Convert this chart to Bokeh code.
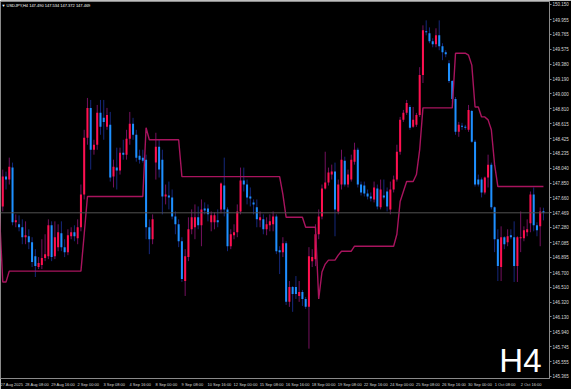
from bokeh.plotting import figure
from bokeh.models import Range1d, LinearAxis, FixedTicker, PrintfTickFormatter, Label, Span
from bokeh.embed import file_html
from bokeh.resources import INLINE

header_text = "\u25BC USDJPY,H4  147.490 147.534 147.372 147.469"
timeframe_text = "H4"
last_price = 147.469

opens = [
    147.641, 147.551, 147.935, 147.897, 148.051, 147.347, 147.321, 147.283, 147.155, 147.167,
    147.091, 146.911, 146.771, 146.796, 146.886, 146.911, 147.308, 146.911, 147.027, 147.206,
    147.027, 146.963, 147.167, 147.219, 147.142, 147.283, 147.705, 148.435, 148.819, 148.281,
    148.345, 148.755, 148.691, 148.575, 148.601, 147.935, 148.051, 148.012, 148.243, 148.217,
    148.422, 148.614, 148.473, 148.204, 148.179, 148.153, 147.283, 147.129, 148.115, 148.319,
    148.153, 147.679, 147.692, 147.667, 147.423, 147.321, 147.103, 146.591, 146.899, 147.257,
    147.283, 147.411, 147.308, 147.526, 147.526, 147.347, 147.347, 147.372, 147.513, 147.820,
    147.513, 147.039, 147.180, 147.219, 147.487, 147.884, 147.833, 147.679, 147.603, 147.539,
    147.372, 147.385, 147.257, 147.308, 147.321, 147.423, 146.988, 146.963, 147.078, 146.323,
    146.515, 146.515, 146.399, 146.451, 146.361, 146.259, 146.847, 146.873, 147.193, 147.423,
    147.782, 147.859, 147.961, 147.999, 147.487, 147.833, 148.140, 147.833, 147.897, 148.127,
    148.281, 147.833, 147.820, 147.718, 147.679, 147.641, 147.782, 147.539, 147.692, 147.743,
    147.513, 147.769, 147.897, 148.255, 148.665, 148.755, 148.831, 148.575, 148.601, 148.729,
    149.241, 149.804, 149.779, 149.676, 149.638, 149.753, 149.612, 149.535, 149.395, 149.164,
    148.934, 148.511, 148.588, 148.575, 148.537, 148.780, 148.383, 147.897, 147.897, 147.731,
    147.923, 148.089, 147.539, 147.129, 146.771, 147.155, 147.091, 147.180, 147.155, 146.783,
    147.142, 147.142, 147.219, 147.334, 147.705, 147.308, 147.295, 147.490,
]
highs = [
    147.705, 148.025, 147.999, 148.179, 148.115, 147.449, 147.436, 147.385, 147.359, 147.257,
    147.155, 147.001, 146.899, 147.129, 147.193, 147.385, 147.359, 147.359, 147.321, 147.359,
    147.129, 147.257, 147.283, 147.308, 147.385, 147.833, 148.537, 148.947, 148.921, 148.409,
    148.857, 148.921, 148.921, 148.819, 148.767, 148.153, 148.307, 148.307, 148.409, 148.537,
    148.767, 148.691, 148.537, 148.281, 148.281, 148.217, 147.385, 147.449, 148.499, 148.409,
    148.281, 147.833, 147.871, 147.769, 147.487, 147.385, 147.155, 147.001, 147.411, 147.513,
    147.577, 147.551, 147.641, 147.603, 147.577, 147.487, 147.475, 147.513, 147.859, 148.179,
    147.539, 147.257, 147.321, 147.577, 148.051, 148.051, 147.897, 147.795, 147.641, 147.641,
    147.487, 147.449, 147.411, 147.449, 147.487, 147.449, 147.039, 147.155, 147.103, 146.591,
    146.527, 146.655, 146.591, 146.476, 146.387, 147.027, 147.001, 147.321, 147.513, 147.833,
    148.255, 148.051, 148.089, 148.115, 147.897, 148.281, 148.191, 148.025, 148.217, 148.371,
    148.307, 147.871, 147.871, 147.769, 147.731, 147.871, 147.833, 147.897, 147.897, 147.795,
    147.871, 147.948, 148.345, 148.703, 148.793, 148.921, 148.857, 148.831, 148.755, 149.343,
    149.881, 149.945, 149.855, 149.715, 149.843, 149.945, 149.651, 149.561, 149.433, 149.177,
    148.959, 148.639, 148.627, 148.601, 148.857, 148.793, 148.409, 147.961, 147.923, 147.935,
    148.217, 148.115, 147.551, 147.257, 147.295, 147.167, 147.257, 147.257, 147.359, 147.167,
    147.487, 147.295, 147.385, 147.743, 147.795, 147.347, 147.539, 147.534,
]
lows = [
    147.449, 147.487, 147.769, 147.833, 147.308, 147.283, 147.231, 147.065, 147.065, 147.001,
    146.771, 146.643, 146.745, 146.745, 146.847, 146.873, 146.847, 146.873, 146.975, 146.975,
    146.899, 146.924, 147.129, 147.103, 147.065, 147.231, 147.641, 148.345, 148.025, 148.217,
    148.281, 148.473, 148.409, 148.537, 147.871, 147.795, 147.769, 147.961, 148.153, 148.153,
    148.345, 148.409, 148.127, 148.102, 148.115, 147.129, 146.937, 147.065, 147.897, 147.923,
    147.449, 147.577, 147.513, 147.385, 147.193, 147.027, 146.579, 146.399, 146.847, 147.193,
    147.129, 147.257, 147.039, 147.449, 147.359, 147.231, 147.257, 147.283, 147.462, 147.423,
    146.975, 147.001, 147.129, 147.155, 147.449, 147.743, 147.577, 147.551, 147.449, 147.283,
    147.283, 147.193, 147.180, 147.231, 147.231, 146.937, 146.681, 146.899, 146.284, 146.259,
    146.195, 146.361, 146.323, 146.271, 146.233, 145.721, 146.771, 146.783, 147.129, 147.385,
    147.769, 147.820, 147.897, 147.167, 147.449, 147.769, 147.807, 147.795, 147.871, 148.089,
    147.795, 147.692, 147.679, 147.641, 147.615, 147.603, 147.513, 147.513, 147.641, 147.487,
    147.449, 147.731, 147.871, 148.217, 148.639, 148.729, 148.537, 148.563, 148.575, 148.703,
    149.139, 149.753, 149.651, 149.599, 149.599, 149.561, 149.433, 149.471, 149.139, 148.895,
    148.473, 148.447, 148.537, 148.537, 148.511, 148.371, 147.807, 147.807, 147.667, 147.705,
    147.795, 147.513, 146.963, 146.591, 146.591, 147.001, 147.039, 147.129, 146.579, 146.579,
    146.963, 147.103, 147.167, 147.219, 147.231, 147.167, 147.039, 147.372,
]
closes = [
    147.577, 147.935, 147.897, 148.063, 147.347, 147.372, 147.283, 147.155, 147.180, 147.091,
    146.835, 146.783, 146.822, 146.886, 146.937, 147.308, 146.899, 147.155, 147.219, 147.027,
    146.963, 147.180, 147.219, 147.167, 147.283, 147.705, 148.435, 148.819, 148.281, 148.345,
    148.755, 148.575, 148.639, 148.729, 147.923, 148.063, 148.012, 148.243, 148.217, 148.422,
    148.614, 148.473, 148.179, 148.153, 148.140, 147.283, 147.129, 147.385, 148.319, 148.025,
    147.679, 147.705, 147.667, 147.423, 147.321, 147.103, 146.617, 146.911, 147.257, 147.411,
    147.411, 147.308, 147.513, 147.500, 147.449, 147.436, 147.436, 147.347, 147.846, 147.513,
    147.039, 147.193, 147.219, 147.487, 147.884, 147.833, 147.667, 147.654, 147.577, 147.385,
    147.411, 147.257, 147.321, 147.359, 147.423, 146.975, 146.963, 147.078, 146.323, 146.515,
    146.425, 146.425, 146.451, 146.361, 146.259, 146.911, 146.899, 147.193, 147.423, 147.782,
    147.859, 147.987, 147.999, 147.513, 147.833, 148.153, 147.833, 147.961, 148.153, 148.281,
    147.833, 147.731, 147.718, 147.679, 147.654, 147.795, 147.551, 147.769, 147.667, 147.551,
    147.769, 147.897, 148.255, 148.665, 148.755, 148.883, 148.563, 148.665, 148.729, 149.241,
    149.817, 149.791, 149.676, 149.638, 149.753, 149.612, 149.535, 149.510, 149.164, 148.934,
    148.511, 148.601, 148.575, 148.563, 148.793, 148.383, 147.833, 147.833, 147.731, 147.923,
    148.089, 147.539, 147.129, 146.783, 147.155, 147.065, 147.167, 147.155, 146.783, 147.155,
    147.155, 147.244, 147.257, 147.705, 147.308, 147.244, 147.487, 147.469,
]
stop_line = [
    147.449, 146.579, 146.579, 146.719, 146.719, 146.719, 146.719, 146.719, 146.719, 146.719,
    146.719, 146.719, 146.719, 146.719, 146.719, 146.719, 146.719, 146.719, 146.719, 146.719,
    146.719, 146.719, 146.719, 146.719, 146.719, 146.719, 147.193, 147.679, 147.679, 147.679,
    147.679, 147.679, 147.679, 147.679, 147.679, 147.679, 147.679, 147.679, 147.679, 147.679,
    147.679, 147.679, 147.679, 147.679, 147.679, 148.563, 148.409, 148.409, 148.409, 148.409,
    148.409, 148.409, 148.409, 148.409, 148.409, 148.409, 147.935, 147.935, 147.935, 147.935,
    147.935, 147.935, 147.935, 147.935, 147.935, 147.935, 147.935, 147.935, 147.935, 147.935,
    147.935, 147.935, 147.935, 147.935, 147.935, 147.935, 147.935, 147.935, 147.935, 147.935,
    147.935, 147.935, 147.935, 147.935, 147.935, 147.935, 147.935, 147.705, 147.411, 147.411,
    147.411, 147.411, 147.411, 147.411, 147.283, 147.283, 147.283, 147.283, 146.361, 146.707,
    146.809, 146.860, 146.860, 146.860, 146.924, 146.975, 146.975, 146.975, 146.975, 147.039,
    147.039, 147.039, 147.039, 147.039, 147.039, 147.039, 147.039, 147.039, 147.039, 147.039,
    147.039, 147.039, 147.193, 147.615, 147.743, 147.871, 147.871, 147.871, 147.961, 148.281,
    148.819, 148.819, 148.819, 148.819, 148.819, 148.819, 148.819, 148.819, 148.819, 148.819,
    149.523, 149.523, 149.523, 149.523, 149.497, 149.369, 148.831, 148.831, 148.703, 148.703,
    148.665, 148.537, 148.089, 147.807, 147.807, 147.807, 147.807, 147.807, 147.807, 147.807,
    147.807, 147.807, 147.807, 147.807, 147.807, 147.807, 147.807, 147.807,
]
date_label_bars = [0, 8, 16, 24, 32, 40, 48, 56, 64, 72, 80, 88, 96, 104, 112, 120, 128, 136, 144, 152, 160]
date_labels = ["27 Aug 2025", "28 Aug 08:00", "29 Aug 16:00", "2 Sep 00:00", "3 Sep 08:00",
               "4 Sep 16:00", "8 Sep 00:00", "9 Sep 08:00", "10 Sep 16:00", "12 Sep 00:00",
               "15 Sep 08:00", "16 Sep 16:00", "18 Sep 00:00", "19 Sep 08:00", "22 Sep 16:00",
               "24 Sep 00:00", "25 Sep 08:00", "26 Sep 16:00", "30 Sep 00:00", "1 Oct 08:00",
               "2 Oct 16:00"]
price_ticks = [150.150, 149.955, 149.765, 149.575, 149.380, 149.190, 149.000, 148.810, 148.615,
               148.425, 148.235, 148.040, 147.850, 147.660, 147.280, 147.085, 146.895, 146.700,
               146.510, 146.320, 146.130, 145.940, 145.745, 145.555, 145.365]

# ---- styling ----
BG = "#000000"
UP_BODY = "#ff1050"
DOWN_BODY = "#1e90ff"
UP_WICK = "#74105e"
DOWN_WICK = "#15287c"
LINE_COL = "#a8145e"
AXIS_COL = "#8a8a8a"
TEXT_COL = "#d8d8d8"
FONT = "Liberation Sans"

W, H = 571, 389
RIGHT, BOTTOM, TOP = 19, 9, 1
frame_w = W - RIGHT
x0 = 0.305
px_per_bar = 3.275
x1 = x0 + frame_w / px_per_bar

p = figure(width=W, height=H, x_range=Range1d(x0, x1), y_range=Range1d(145.337, 150.188),
           output_backend="svg", toolbar_location=None,
           background_fill_color=BG, border_fill_color=BG,
           min_border_left=0, min_border_right=RIGHT, min_border_top=TOP, min_border_bottom=BOTTOM,
           x_axis_location=None, y_axis_location=None)
p.grid.visible = False
p.outline_line_color = AXIS_COL
p.outline_line_width = 1

# right price axis (the last price sits on the scale as its own tick)
all_price_ticks = sorted(price_ticks + [last_price], reverse=True)
yaxis = LinearAxis(ticker=FixedTicker(ticks=all_price_ticks), formatter=PrintfTickFormatter(format="%.3f"))
yaxis.axis_line_color = AXIS_COL
yaxis.major_tick_line_color = AXIS_COL
yaxis.major_tick_out = 2
yaxis.major_tick_in = 0
yaxis.minor_tick_out = 0
yaxis.minor_tick_in = 0
yaxis.major_label_standoff = 1
yaxis.major_label_text_font = FONT
yaxis.major_label_text_font_size = "4.5px"
yaxis.major_label_text_color = TEXT_COL
p.add_layout(yaxis, "right")

# bottom date axis (labels start at their bar, as in the terminal)
centers = [round(b + len(t) * 0.96 / px_per_bar, 2) for b, t in zip(date_label_bars, date_labels)]
xaxis = LinearAxis(ticker=FixedTicker(ticks=centers),
                   major_label_overrides={c: t for c, t in zip(centers, date_labels)})
xaxis.axis_line_color = None
xaxis.major_tick_out = 0
xaxis.major_tick_in = 0
xaxis.minor_tick_out = 0
xaxis.minor_tick_in = 0
xaxis.major_label_standoff = 3
xaxis.major_label_text_font = FONT
xaxis.major_label_text_font_size = "4px"
xaxis.major_label_text_color = TEXT_COL
p.add_layout(xaxis, "below")

# current price line
p.add_layout(Span(location=last_price, dimension="width", line_color="#505050", line_width=1))

idx = list(range(len(opens)))
up = [c >= o for o, c in zip(opens, closes)]
min_h = 0.012
tops, bots = [], []
for o, c in zip(opens, closes):
    t, b = max(o, c), min(o, c)
    if t - b < min_h:
        m = (t + b) / 2
        t, b = m + min_h / 2, m - min_h / 2
    tops.append(t)
    bots.append(b)

p.segment(x0=idx, y0=lows, x1=idx, y1=highs,
          line_color=[UP_WICK if u else DOWN_WICK for u in up], line_width=1)
p.vbar(x=idx, top=tops, bottom=bots, width=0.62,
       fill_color=[UP_BODY if u else DOWN_BODY for u in up], line_color=None)

p.line(idx, stop_line, line_color=LINE_COL, line_width=1.4)

# header
p.add_layout(Label(x=x0 + 1 / px_per_bar, y=150.137, text=header_text, text_color="#ffffff",
                   text_font=FONT, text_font_size="4px", text_baseline="middle", text_align="left"))
# timeframe watermark
p.add_layout(Label(x=x0 + 544 / px_per_bar, y=145.57, text=timeframe_text, text_color="#ffffff",
                   text_font=FONT, text_font_size="33px", text_baseline="alphabetic", text_align="right"))

open("out.html", "w").write(file_html(p, INLINE))
